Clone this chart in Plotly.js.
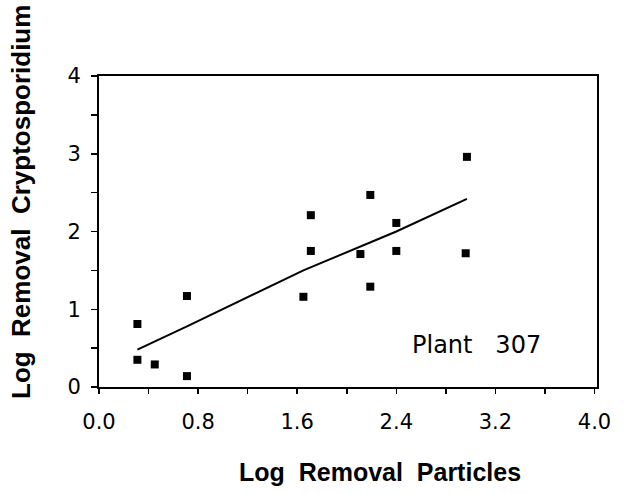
<!DOCTYPE html>
<html>
<head>
<meta charset="utf-8">
<script src="https://cdn.plot.ly/plotly-3.0.1.min.js"></script>
<style>html,body{margin:0;padding:0;background:#fff;}#chart{width:625px;height:493px;}</style>
</head>
<body>
<div id="chart"></div>
<script>
// Observed data (Plant 307)
const logRemovalParticles = [0.31, 0.31, 0.45, 0.71, 0.71, 1.65, 1.71, 1.71, 2.11, 2.19, 2.19, 2.40, 2.40, 2.97, 2.96];
const logRemovalCrypto    = [0.81, 0.35, 0.29, 1.17, 0.14, 1.16, 2.21, 1.75, 1.71, 2.47, 1.29, 2.11, 1.75, 2.96, 1.72];

// Fitted line
const fitX = [0.31, 0.71, 1.65, 2.40, 2.97];
const fitY = [0.48, 0.78, 1.50, 2.00, 2.42];

// Tick labels
const xTickVals = [0.0, 0.4, 0.8, 1.2, 1.6, 2.0, 2.4, 2.8, 3.2, 3.6, 4.0];
const xTickText = ['0.0', '', '0.8', '', '1.6', '', '2.4', '', '3.2', '', '4.0'];
const yTickVals = [0, 0.5, 1, 1.5, 2, 2.5, 3, 3.5, 4];
const yTickText = ['0', '', '1', '', '2', '', '3', '', '4'];

const traces = [
  {
    x: fitX, y: fitY, type: 'scatter', mode: 'lines',
    line: {color: '#000', width: 2},
    hoverinfo: 'skip', showlegend: false
  },
  {
    x: logRemovalParticles, y: logRemovalCrypto, type: 'scatter', mode: 'markers',
    marker: {symbol: 'square', size: 8, color: '#000'},
    showlegend: false
  }
];

const tickFont = {family: 'DejaVu Sans, sans-serif', size: 21, color: '#000'};
const titleFont = {family: 'Liberation Sans, Arial, sans-serif', size: 25, color: '#000', weight: 'bold'};
const yTitleFont = {family: 'Liberation Sans, Arial, sans-serif', size: 26, color: '#000', weight: 'bold'};

const layout = {
  width: 625, height: 493,
  margin: {l: 99, r: 28, t: 76, b: 106},
  paper_bgcolor: '#fff', plot_bgcolor: '#fff',
  showlegend: false,
  xaxis: {
    range: [0, 4.02], tickvals: xTickVals, ticktext: xTickText,
    ticks: 'outside', ticklen: 5, tickwidth: 1.5, tickcolor: '#000',
    ticklabelstandoff: 10,
    showline: true, linecolor: '#000', linewidth: 2, mirror: true,
    showgrid: false, zeroline: false, tickfont: tickFont
  },
  yaxis: {
    range: [0, 4], tickvals: yTickVals, ticktext: yTickText,
    ticks: 'outside', ticklen: 6, tickwidth: 1.5, tickcolor: '#000',
    ticklabelstandoff: 6,
    showline: true, linecolor: '#000', linewidth: 2, mirror: true,
    showgrid: false, zeroline: false, tickfont: tickFont
  },
  annotations: [
    {
      text: 'Plant\u00a0\u00a0\u00a0307', x: 2.51, y: 0.54, xref: 'x', yref: 'y',
      xanchor: 'left', yanchor: 'middle', showarrow: false,
      font: {family: 'DejaVu Sans, sans-serif', size: 24, color: '#000'}
    },
    {
      text: 'Log\u00a0\u00a0Removal\u00a0\u00a0Particles', x: 0, y: 0, xref: 'paper', yref: 'paper',
      xanchor: 'center', yanchor: 'middle',
      showarrow: false, font: titleFont
    },
    {
      text: 'Log\u00a0\u00a0Removal\u00a0\u00a0Cryptosporidium', x: 0, y: 0, xref: 'paper', yref: 'paper',
      xanchor: 'center', yanchor: 'middle',
      showarrow: false, textangle: -90, font: yTitleFont
    }
  ]
};

// Place axis-title annotations in pixel terms converted to paper coordinates
const plotW = layout.width - layout.margin.l - layout.margin.r;
const plotH = layout.height - layout.margin.t - layout.margin.b;
function px2paperX(px) { return (px - layout.margin.l) / plotW; }
function px2paperY(py) { return (layout.height - layout.margin.b - py) / plotH; }
layout.annotations[1].x = px2paperX(380);
layout.annotations[1].y = px2paperY(472);
layout.annotations[2].x = px2paperX(21);
layout.annotations[2].y = px2paperY(202);

Plotly.newPlot('chart', traces, layout, {displayModeBar: false, staticPlot: true});
</script>
</body>
</html>
